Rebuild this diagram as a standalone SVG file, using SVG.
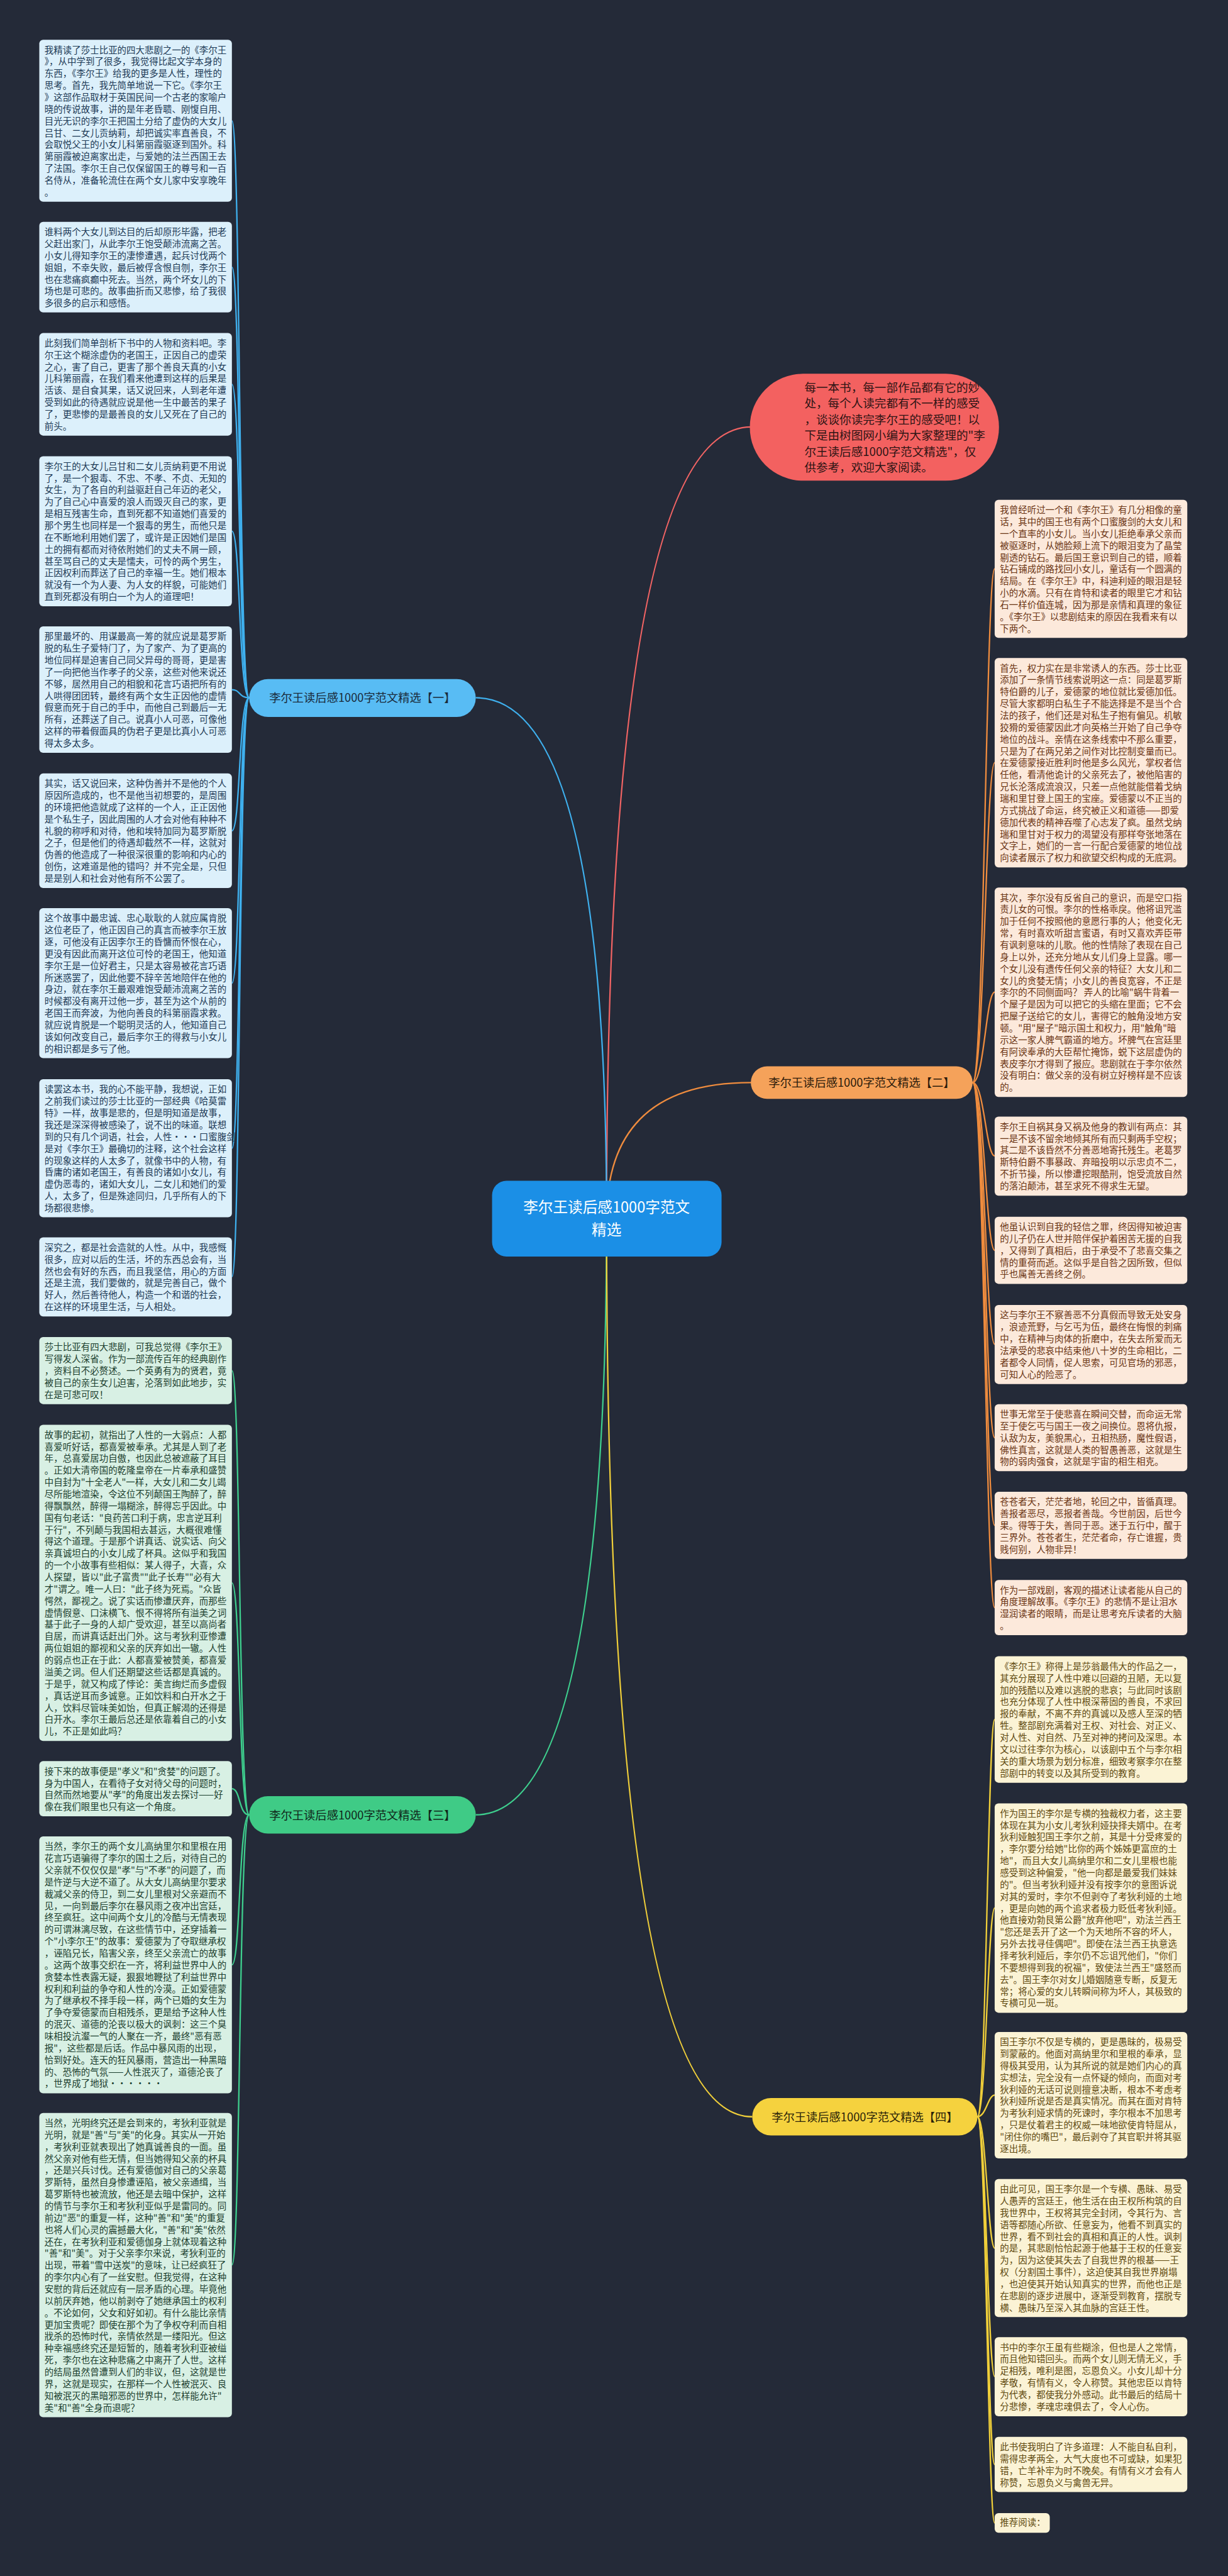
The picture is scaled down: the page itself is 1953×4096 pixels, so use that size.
<svg xmlns="http://www.w3.org/2000/svg" width="1953" height="4096" viewBox="0 0 1953 4096">
<style>
.t{font-family:"Noto Sans CJK SC","Noto Sans",sans-serif;font-size:19px}
.bb{fill:#dcf0fb}.bt{fill:#1d3a56}
.gb{fill:#d8f0e4}.gt{fill:#1c3f2f}
.ob{fill:#fce9db}.ot{fill:#6b3514}
.yb{fill:#fbf3d5}.yt{fill:#5f4a10}
.c{fill:none;stroke-width:3}
.lb{stroke:#3fb0ee}.lg{stroke:#3ecf8e}.lo{stroke:#ef8c3e}.ly{stroke:#f0cf3a}.lr{stroke:#f26464}
.lab{font-family:"Noto Sans CJK SC","Noto Sans",sans-serif;font-size:24px;text-anchor:middle}
</style>
<rect width="1953" height="4096" fill="#242a38"/>
<g transform="scale(0.762)">
<g id="connectors">
<path class="c lr" d="M1266 2543Q1266 891 1568 891"/>
<path class="c lb" d="M1266 2543Q1266 1456 993 1456"/>
<path class="c lo" d="M1266 2543Q1266 2259 1567 2259"/>
<path class="c lg" d="M1266 2543Q1266 3787 993 3787"/>
<path class="c ly" d="M1266 2543Q1266 4417 1570 4417"/>
<path class="c lb" d="M520 1456C498 1456 502 252 484 252"/>
<path class="c lb" d="M520 1456C498 1456 502 557.5 484 557.5"/>
<path class="c lb" d="M520 1456C498 1456 502 802 484 802"/>
<path class="c lb" d="M520 1456C498 1456 502 1108.5 484 1108.5"/>
<path class="c lb" d="M520 1456C498 1456 502 1439 484 1439"/>
<path class="c lb" d="M520 1456C498 1456 502 1733.5 484 1733.5"/>
<path class="c lb" d="M520 1456C498 1456 502 2051.5 484 2051.5"/>
<path class="c lb" d="M520 1456C498 1456 502 2396 484 2396"/>
<path class="c lb" d="M520 1456C498 1456 502 2664 484 2664"/>
<path class="c lg" d="M520 3787C498 3787 502 2860 484 2860"/>
<path class="c lg" d="M520 3787C498 3787 502 3303 484 3303"/>
<path class="c lg" d="M520 3787C498 3787 502 3732.5 484 3732.5"/>
<path class="c lg" d="M520 3787C498 3787 502 4100 484 4100"/>
<path class="c lg" d="M520 3787C498 3787 502 4726 484 4726"/>
<path class="c lo" d="M2030 2259C2054 2259 2058 1187 2076 1187"/>
<path class="c lo" d="M2030 2259C2054 2259 2058 1591.5 2076 1591.5"/>
<path class="c lo" d="M2030 2259C2054 2259 2058 2070.5 2076 2070.5"/>
<path class="c lo" d="M2030 2259C2054 2259 2058 2412 2076 2412"/>
<path class="c lo" d="M2030 2259C2054 2259 2058 2609 2076 2609"/>
<path class="c lo" d="M2030 2259C2054 2259 2058 2805 2076 2805"/>
<path class="c lo" d="M2030 2259C2054 2259 2058 3000 2076 3000"/>
<path class="c lo" d="M2030 2259C2054 2259 2058 3183 2076 3183"/>
<path class="c lo" d="M2030 2259C2054 2259 2058 3354.5 2076 3354.5"/>
<path class="c ly" d="M2040 4417C2058 4417 2062 3588 2076 3588"/>
<path class="c ly" d="M2040 4417C2058 4417 2062 3981.5 2076 3981.5"/>
<path class="c ly" d="M2040 4417C2058 4417 2062 4372 2076 4372"/>
<path class="c ly" d="M2040 4417C2058 4417 2062 4691 2076 4691"/>
<path class="c ly" d="M2040 4417C2058 4417 2062 4959 2076 4959"/>
<path class="c ly" d="M2040 4417C2058 4417 2062 5142.5 2076 5142.5"/>
<path class="c ly" d="M2040 4417C2058 4417 2062 5264.5 2076 5264.5"/>
</g>

<g id="center">
<rect x="1027" y="2464" width="479" height="158" rx="30" fill="#1b8fe6"/>
<text class="lab" x="1266" y="2530" style="font-size:31px" fill="#ffffff"><tspan x="1266">李尔王读后感1000字范文</tspan><tspan x="1266" dy="48">精选</tspan></text>
</g>

<g id="intro">
<rect x="1565" y="780" width="520" height="223" rx="111" fill="#f36160"/>
<text x="1679" y="817" style="font-family:'Noto Sans CJK SC','Noto Sans',sans-serif;font-size:24.4px" fill="#2e1414"><tspan x="1679">每一本书，每一部作品都有它的妙</tspan><tspan x="1679" dy="33.5">处，每个人读完都有不一样的感受</tspan><tspan x="1679" dy="33.5">，谈谈你读完李尔王的感受吧！以</tspan><tspan x="1679" dy="33.5">下是由树图网小编为大家整理的"李</tspan><tspan x="1679" dy="33.5">尔王读后感1000字范文精选"，仅</tspan><tspan x="1679" dy="33.5">供参考，欢迎大家阅读。</tspan></text>
</g>

<g id="branch1">
<rect x="520" y="1417" width="473" height="79" rx="39.5" fill="#58bcf4"/>
<text class="lab" x="756.5" y="1465" fill="#1a2a3a">李尔王读后感1000字范文精选【一】</text>
</g>
<g id="branch2">
<rect x="1567" y="2225" width="463" height="68" rx="34" fill="#f5a25a"/>
<text class="lab" x="1798.5" y="2268" fill="#2a1a0a">李尔王读后感1000字范文精选【二】</text>
</g>
<g id="branch3">
<rect x="520" y="3748" width="473" height="78" rx="39" fill="#3fcb86"/>
<text class="lab" x="756.5" y="3796" fill="#10261a">李尔王读后感1000字范文精选【三】</text>
</g>
<g id="branch4">
<rect x="1570" y="4378" width="470" height="78" rx="39" fill="#f5d23e"/>
<text class="lab" x="1805" y="4426" fill="#2a2208">李尔王读后感1000字范文精选【四】</text>
</g>

<g id="b1"><rect class="bb" x="82" y="83" width="402" height="338" rx="8"/>
<text class="t bt" x="93" y="111"><tspan x="93">我精读了莎士比亚的四大悲剧之一的《李尔王</tspan><tspan x="93" dy="24.75">》，从中学到了很多，我觉得比起文学本身的</tspan><tspan x="93" dy="24.75">东西，《李尔王》给我的更多是人性，理性的</tspan><tspan x="93" dy="24.75">思考。首先，我先简单地说一下它。《李尔王</tspan><tspan x="93" dy="24.75">》这部作品取材于英国民间一个古老的家喻户</tspan><tspan x="93" dy="24.75">晓的传说故事，讲的是年老昏聩、刚愎自用、</tspan><tspan x="93" dy="24.75">目光无识的李尔王把国土分给了虚伪的大女儿</tspan><tspan x="93" dy="24.75">吕甘、二女儿贡纳莉，却把诚实率直善良，不</tspan><tspan x="93" dy="24.75">会取悦父王的小女儿科第丽霞驱逐到国外。科</tspan><tspan x="93" dy="24.75">第丽霞被迫离家出走，与爱她的法兰西国王去</tspan><tspan x="93" dy="24.75">了法国。李尔王自己仅保留国王的尊号和一百</tspan><tspan x="93" dy="24.75">名侍从，准备轮流住在两个女儿家中安享晚年</tspan><tspan x="93" dy="24.75">。</tspan></text></g>

<g id="b2"><rect class="bb" x="82" y="463" width="402" height="189" rx="8"/>
<text class="t bt" x="93" y="491"><tspan x="93">谁料两个大女儿到达目的后却原形毕露，把老</tspan><tspan x="93" dy="24.75">父赶出家门，从此李尔王饱受颠沛流离之苦。</tspan><tspan x="93" dy="24.75">小女儿得知李尔王的凄惨遭遇，起兵讨伐两个</tspan><tspan x="93" dy="24.75">姐姐，不幸失败，最后被俘含恨自刎，李尔王</tspan><tspan x="93" dy="24.75">也在悲痛疯癫中死去。当然，两个坏女儿的下</tspan><tspan x="93" dy="24.75">场也是可悲的。故事曲折而又悲惨，给了我很</tspan><tspan x="93" dy="24.75">多很多的启示和感悟。</tspan></text></g>

<g id="b3"><rect class="bb" x="82" y="695" width="402" height="214" rx="8"/>
<text class="t bt" x="93" y="723"><tspan x="93">此刻我们简单剖析下书中的人物和资料吧。李</tspan><tspan x="93" dy="24.75">尔王这个糊涂虚伪的老国王，正因自己的虚荣</tspan><tspan x="93" dy="24.75">之心，害了自己，更害了那个善良天真的小女</tspan><tspan x="93" dy="24.75">儿科第丽霞，在我们看来他遭到这样的后果是</tspan><tspan x="93" dy="24.75">活该、是自食其果，话又说回来，人到老年遭</tspan><tspan x="93" dy="24.75">受到如此的待遇就应说是他一生中最苦的果子</tspan><tspan x="93" dy="24.75">了，更悲惨的是最善良的女儿又死在了自己的</tspan><tspan x="93" dy="24.75">前头。</tspan></text></g>

<g id="b4"><rect class="bb" x="82" y="952" width="402" height="313" rx="8"/>
<text class="t bt" x="93" y="980"><tspan x="93">李尔王的大女儿吕甘和二女儿贡纳莉更不用说</tspan><tspan x="93" dy="24.75">了，是一个狠毒、不忠、不孝、不贞、无知的</tspan><tspan x="93" dy="24.75">女生，为了各自的利益驱赶自己年迈的老父，</tspan><tspan x="93" dy="24.75">为了自己心中喜爱的浪人而毁灭自己的家，更</tspan><tspan x="93" dy="24.75">是相互残害生命，直到死都不知道她们喜爱的</tspan><tspan x="93" dy="24.75">那个男生也同样是一个狠毒的男生，而他只是</tspan><tspan x="93" dy="24.75">在不断地利用她们罢了，或许是正因她们是国</tspan><tspan x="93" dy="24.75">土的拥有都而对待依附她们的丈夫不屑一顾，</tspan><tspan x="93" dy="24.75">甚至骂自己的丈夫是懦夫，可怜的两个男生，</tspan><tspan x="93" dy="24.75">正因权利而葬送了自己的幸福一生。她们根本</tspan><tspan x="93" dy="24.75">就没有一个为人妻、为人女的样貌，可能她们</tspan><tspan x="93" dy="24.75">直到死都没有明白一个为人的道理吧！</tspan></text></g>

<g id="b5"><rect class="bb" x="82" y="1307" width="402" height="264" rx="8"/>
<text class="t bt" x="93" y="1335"><tspan x="93">那里最坏的、用谋最高一筹的就应说是葛罗斯</tspan><tspan x="93" dy="24.75">脱的私生子爱特门了，为了家产、为了更高的</tspan><tspan x="93" dy="24.75">地位同样是迫害自己同父异母的哥哥，更是害</tspan><tspan x="93" dy="24.75">了一向把他当作孝子的父亲，这些对他来说还</tspan><tspan x="93" dy="24.75">不够，居然用自己的相貌和花言巧语把所有的</tspan><tspan x="93" dy="24.75">人哄得团团转，最终有两个女生正因他的虚情</tspan><tspan x="93" dy="24.75">假意而死于自己的手中，而他自己到最后一无</tspan><tspan x="93" dy="24.75">所有，还葬送了自己。说真小人可恶，可像他</tspan><tspan x="93" dy="24.75">这样的带着假面具的伪君子更是比真小人可恶</tspan><tspan x="93" dy="24.75">得太多太多。</tspan></text></g>

<g id="b6"><rect class="bb" x="82" y="1614" width="402" height="239" rx="8"/>
<text class="t bt" x="93" y="1642"><tspan x="93">其实，话又说回来，这种伪善并不是他的个人</tspan><tspan x="93" dy="24.75">原因所造成的，也不是他当初想要的，是周围</tspan><tspan x="93" dy="24.75">的环境把他造就成了这样的一个人，正正因他</tspan><tspan x="93" dy="24.75">是个私生子，因此周围的人才会对他有种种不</tspan><tspan x="93" dy="24.75">礼貌的称呼和对待，他和埃特加同为葛罗斯脱</tspan><tspan x="93" dy="24.75">之子，但是他们的待遇却截然不一样，这就对</tspan><tspan x="93" dy="24.75">伪善的他造成了一种很深很重的影响和内心的</tspan><tspan x="93" dy="24.75">创伤，这难道是他的错吗？并不完全是，只但</tspan><tspan x="93" dy="24.75">是是别人和社会对他有所不公罢了。</tspan></text></g>

<g id="b7"><rect class="bb" x="82" y="1895" width="402" height="313" rx="8"/>
<text class="t bt" x="93" y="1923"><tspan x="93">这个故事中最忠诚、忠心耿耿的人就应属肯脱</tspan><tspan x="93" dy="24.75">这位老臣了，他正因自己的真言而被李尔王放</tspan><tspan x="93" dy="24.75">逐，可他没有正因李尔王的昏慵而怀恨在心，</tspan><tspan x="93" dy="24.75">更没有因此而离开这位可怜的老国王，他知道</tspan><tspan x="93" dy="24.75">李尔王是一位好君主，只是太容易被花言巧语</tspan><tspan x="93" dy="24.75">所迷惑罢了，因此他要不辞辛苦地陪伴在他的</tspan><tspan x="93" dy="24.75">身边，就在李尔王最艰难饱受颠沛流离之苦的</tspan><tspan x="93" dy="24.75">时候都没有离开过他一步，甚至为这个从前的</tspan><tspan x="93" dy="24.75">老国王而奔波，为他向善良的科第丽霞求救。</tspan><tspan x="93" dy="24.75">就应说肯脱是一个聪明灵活的人，他知道自己</tspan><tspan x="93" dy="24.75">该如何改变自己，最后李尔王的得救与小女儿</tspan><tspan x="93" dy="24.75">的相识都是多亏了他。</tspan></text></g>

<g id="b8"><rect class="bb" x="82" y="2252" width="402" height="288" rx="8"/>
<text class="t bt" x="93" y="2280"><tspan x="93">读罢这本书，我的心不能平静，我想说，正如</tspan><tspan x="93" dy="24.75">之前我们读过的莎士比亚的一部经典《哈莫雷</tspan><tspan x="93" dy="24.75">特》一样，故事是悲的，但是明知道是故事，</tspan><tspan x="93" dy="24.75">我还是深深得被感染了，说不出的味道。联想</tspan><tspan x="93" dy="24.75">到的只有几个词语，社会，人性···口蜜腹剑</tspan><tspan x="93" dy="24.75">是对《李尔王》最确切的注释，这个社会这样</tspan><tspan x="93" dy="24.75">的现象这样的人太多了，就像书中的人物，有</tspan><tspan x="93" dy="24.75">昏庸的诸如老国王，有善良的诸如小女儿，有</tspan><tspan x="93" dy="24.75">虚伪恶毒的，诸如大女儿，二女儿和她们的爱</tspan><tspan x="93" dy="24.75">人，太多了，但是殊途同归，几乎所有人的下</tspan><tspan x="93" dy="24.75">场都很悲惨。</tspan></text></g>

<g id="b9"><rect class="bb" x="82" y="2582" width="402" height="165" rx="8"/>
<text class="t bt" x="93" y="2610"><tspan x="93">深究之，都是社会造就的人性。从中，我感慨</tspan><tspan x="93" dy="24.75">很多，应对以后的生活，坏的东西总会有，当</tspan><tspan x="93" dy="24.75">然也会有好的东西，而且我坚信，用心的方面</tspan><tspan x="93" dy="24.75">还是主流，我们要做的，就是完善自己，做个</tspan><tspan x="93" dy="24.75">好人，然后善待他人，构造一个和谐的社会，</tspan><tspan x="93" dy="24.75">在这样的环境里生活，与人相处。</tspan></text></g>

<g id="b10"><rect class="gb" x="82" y="2790" width="402" height="140" rx="8"/>
<text class="t gt" x="93" y="2818"><tspan x="93">莎士比亚有四大悲剧，可我总觉得《李尔王》</tspan><tspan x="93" dy="24.75">写得发人深省。作为一部流传百年的经典剧作</tspan><tspan x="93" dy="24.75">，资料自不必赘述。一个英勇有为的贤君，竟</tspan><tspan x="93" dy="24.75">被自己的亲生女儿迫害，沦落到如此地步，实</tspan><tspan x="93" dy="24.75">在是可悲可叹！</tspan></text></g>

<g id="b11"><rect class="gb" x="82" y="2973" width="402" height="660" rx="8"/>
<text class="t gt" x="93" y="3001"><tspan x="93">故事的起初，就指出了人性的一大弱点：人都</tspan><tspan x="93" dy="24.75">喜爱听好话，都喜爱被奉承。尤其是人到了老</tspan><tspan x="93" dy="24.75">年，总喜爱居功自傲，也因此总被遮蔽了耳目</tspan><tspan x="93" dy="24.75">。正如大清帝国的乾隆皇帝在一片奉承和盛赞</tspan><tspan x="93" dy="24.75">中自封为"十全老人"一样，大女儿和二女儿竭</tspan><tspan x="93" dy="24.75">尽所能地渲染，令这位不列颠国王陶醉了，醉</tspan><tspan x="93" dy="24.75">得飘飘然，醉得一塌糊涂，醉得忘乎因此。中</tspan><tspan x="93" dy="24.75">国有句老话："良药苦口利于病，忠言逆耳利</tspan><tspan x="93" dy="24.75">于行"，不列颠与我国相去甚远，大概很难懂</tspan><tspan x="93" dy="24.75">得这个道理。于是那个讲真话、说实话、向父</tspan><tspan x="93" dy="24.75">亲真诚坦白的小女儿成了杯具。这似乎和我国</tspan><tspan x="93" dy="24.75">的一个小故事有些相似：某人得子，大喜，众</tspan><tspan x="93" dy="24.75">人探望，皆以"此子富贵""此子长寿""必有大</tspan><tspan x="93" dy="24.75">才"谓之。唯一人曰："此子终为死焉。"众皆</tspan><tspan x="93" dy="24.75">愕然，鄙视之。说了实话而惨遭厌弃，而那些</tspan><tspan x="93" dy="24.75">虚情假意、口沫横飞、恨不得将所有溢美之词</tspan><tspan x="93" dy="24.75">基于此子一身的人却广受欢迎，甚至以高尚者</tspan><tspan x="93" dy="24.75">自居，而讲真话赶出门外。这与考狄利亚惨遭</tspan><tspan x="93" dy="24.75">两位姐姐的鄙视和父亲的厌弃如出一辙。人性</tspan><tspan x="93" dy="24.75">的弱点也正在于此：人都喜爱被赞美，都喜爱</tspan><tspan x="93" dy="24.75">溢美之词。但人们还期望这些话都是真诚的。</tspan><tspan x="93" dy="24.75">于是乎，就又构成了悖论：美言绚烂而多虚假</tspan><tspan x="93" dy="24.75">，真话逆耳而多诚意。正如饮料和白开水之于</tspan><tspan x="93" dy="24.75">人，饮料尽管味美如饴，但真正解渴的还得是</tspan><tspan x="93" dy="24.75">白开水。李尔王最后总还是依靠着自己的小女</tspan><tspan x="93" dy="24.75">儿，不正是如此吗？</tspan></text></g>

<g id="b12"><rect class="gb" x="82" y="3675" width="402" height="115" rx="8"/>
<text class="t gt" x="93" y="3703"><tspan x="93">接下来的故事便是"孝义"和"贪婪"的问题了。</tspan><tspan x="93" dy="24.75">身为中国人，在看待子女对待父母的问题时，</tspan><tspan x="93" dy="24.75">自然而然地要从"孝"的角度出发去探讨——好</tspan><tspan x="93" dy="24.75">像在我们眼里也只有这一个角度。</tspan></text></g>

<g id="b13"><rect class="gb" x="82" y="3832" width="402" height="536" rx="8"/>
<text class="t gt" x="93" y="3860"><tspan x="93">当然，李尔王的两个女儿高纳里尔和里根在用</tspan><tspan x="93" dy="24.75">花言巧语骗得了李尔的国土之后，对待自己的</tspan><tspan x="93" dy="24.75">父亲就不仅仅仅是"孝"与"不孝"的问题了，而</tspan><tspan x="93" dy="24.75">是忤逆与大逆不道了。从大女儿高纳里尔要求</tspan><tspan x="93" dy="24.75">裁减父亲的侍卫，到二女儿里根对父亲避而不</tspan><tspan x="93" dy="24.75">见，一向到最后李尔在暴风雨之夜冲出宫廷，</tspan><tspan x="93" dy="24.75">终至疯狂。这中间两个女儿的冷酷与无情表现</tspan><tspan x="93" dy="24.75">的可谓淋漓尽致，在这些情节中，还穿插着一</tspan><tspan x="93" dy="24.75">个"小李尔王"的故事：爱德蒙为了夺取继承权</tspan><tspan x="93" dy="24.75">，诬陷兄长，陷害父亲，终至父亲流亡的故事</tspan><tspan x="93" dy="24.75">。这两个故事交织在一齐，将利益世界中人的</tspan><tspan x="93" dy="24.75">贪婪本性表露无疑，狠狠地鞭挞了利益世界中</tspan><tspan x="93" dy="24.75">权利和利益的争夺和人性的冷漠。正如爱德蒙</tspan><tspan x="93" dy="24.75">为了继承权不择手段一样，两个已婚的女生为</tspan><tspan x="93" dy="24.75">了争夺爱德蒙而自相残杀，更是给予这种人性</tspan><tspan x="93" dy="24.75">的泯灭、道德的沦丧以极大的讽刺：这三个臭</tspan><tspan x="93" dy="24.75">味相投沆瀣一气的人聚在一齐，最终"恶有恶</tspan><tspan x="93" dy="24.75">报"，这些都是后话。作品中暴风雨的出现，</tspan><tspan x="93" dy="24.75">恰到好处。连天的狂风暴雨，营造出一种黑暗</tspan><tspan x="93" dy="24.75">的、恐怖的气氛——人性泯灭了，道德沦丧了</tspan><tspan x="93" dy="24.75">，世界成了地狱······</tspan></text></g>

<g id="b14"><rect class="gb" x="82" y="4409" width="402" height="635" rx="8"/>
<text class="t gt" x="93" y="4437"><tspan x="93">当然，光明终究还是会到来的，考狄利亚就是</tspan><tspan x="93" dy="24.75">光明，就是"善"与"美"的化身。其实从一开始</tspan><tspan x="93" dy="24.75">，考狄利亚就表现出了她真诚善良的一面。虽</tspan><tspan x="93" dy="24.75">然父亲对他有些无情，但当她得知父亲的杯具</tspan><tspan x="93" dy="24.75">，还是兴兵讨伐。还有爱德伽对自己的父亲葛</tspan><tspan x="93" dy="24.75">罗斯特，虽然自身惨遭诬陷，被父亲通缉，当</tspan><tspan x="93" dy="24.75">葛罗斯特也被流放，他还是去暗中保护，这样</tspan><tspan x="93" dy="24.75">的情节与李尔王和考狄利亚似乎是雷同的。同</tspan><tspan x="93" dy="24.75">前边"恶"的重复一样，这种"善"和"美"的重复</tspan><tspan x="93" dy="24.75">也将人们心灵的震撼最大化，"善"和"美"依然</tspan><tspan x="93" dy="24.75">还在，在考狄利亚和爱德伽身上就体现着这种</tspan><tspan x="93" dy="24.75">"善"和"美"。对于父亲李尔来说，考狄利亚的</tspan><tspan x="93" dy="24.75">出现，带着"雪中送炭"的意味，让已经疯狂了</tspan><tspan x="93" dy="24.75">的李尔内心有了一丝安慰。但我觉得，在这种</tspan><tspan x="93" dy="24.75">安慰的背后还就应有一层矛盾的心理。毕竟他</tspan><tspan x="93" dy="24.75">以前厌弃她，他以前剥夺了她继承国土的权利</tspan><tspan x="93" dy="24.75">。不论如何，父女和好如初。有什么能比亲情</tspan><tspan x="93" dy="24.75">更加宝贵呢？即使在那个为了争权夺利而自相</tspan><tspan x="93" dy="24.75">戕杀的恐怖时代，亲情依然是一缕阳光。但这</tspan><tspan x="93" dy="24.75">种幸福感终究还是短暂的，随着考狄利亚被缢</tspan><tspan x="93" dy="24.75">死，李尔也在这种悲痛之中离开了人世。这样</tspan><tspan x="93" dy="24.75">的结局虽然曾遭到人们的非议，但，这就是世</tspan><tspan x="93" dy="24.75">界，这就是现实，在那样一个人性被泯灭、良</tspan><tspan x="93" dy="24.75">知被泯灭的黑暗邪恶的世界中，怎样能允许"</tspan><tspan x="93" dy="24.75">美"和"善"全身而退呢？</tspan></text></g>

<g id="r1"><rect class="ob" x="2076" y="1043" width="402" height="288" rx="8"/>
<text class="t ot" x="2087" y="1071"><tspan x="2087">我曾经听过一个和《李尔王》有几分相像的童</tspan><tspan x="2087" dy="24.75">话，其中的国王也有两个口蜜腹剑的大女儿和</tspan><tspan x="2087" dy="24.75">一个直率的小女儿。当小女儿拒绝奉承父亲而</tspan><tspan x="2087" dy="24.75">被驱逐时，从她脸颊上流下的眼泪变为了晶莹</tspan><tspan x="2087" dy="24.75">剔透的钻石。最后国王意识到自己的错，顺着</tspan><tspan x="2087" dy="24.75">钻石铺成的路找回小女儿，童话有一个圆满的</tspan><tspan x="2087" dy="24.75">结局。在《李尔王》中，科迪利娅的眼泪是轻</tspan><tspan x="2087" dy="24.75">小的水滴。只有在肯特和读者的眼里它才和钻</tspan><tspan x="2087" dy="24.75">石一样价值连城，因为那是亲情和真理的象征</tspan><tspan x="2087" dy="24.75">。《李尔王》以悲剧结束的原因在我看来有以</tspan><tspan x="2087" dy="24.75">下两个。</tspan></text></g>

<g id="r2"><rect class="ob" x="2076" y="1373" width="402" height="437" rx="8"/>
<text class="t ot" x="2087" y="1401"><tspan x="2087">首先，权力实在是非常诱人的东西。莎士比亚</tspan><tspan x="2087" dy="24.75">添加了一条情节线索说明这一点：同是葛罗斯</tspan><tspan x="2087" dy="24.75">特伯爵的儿子，爱德蒙的地位就比爱德加低。</tspan><tspan x="2087" dy="24.75">尽管大家都明白私生子不能选择是不是当个合</tspan><tspan x="2087" dy="24.75">法的孩子，他们还是对私生子抱有偏见。机敏</tspan><tspan x="2087" dy="24.75">狡猾的爱德蒙因此才向英格兰开始了自己争夺</tspan><tspan x="2087" dy="24.75">地位的战斗。亲情在这条线索中不那么重要，</tspan><tspan x="2087" dy="24.75">只是为了在两兄弟之间作对比控制变量而已。</tspan><tspan x="2087" dy="24.75">在爱德蒙接近胜利时他是多么风光，掌权者信</tspan><tspan x="2087" dy="24.75">任他，看清他诡计的父亲死去了，被他陷害的</tspan><tspan x="2087" dy="24.75">兄长沦落成流浪汉，只差一点他就能借着戈纳</tspan><tspan x="2087" dy="24.75">瑞和里甘登上国王的宝座。爱德蒙以不正当的</tspan><tspan x="2087" dy="24.75">方式挑战了命运，终究被正义和道德——即爱</tspan><tspan x="2087" dy="24.75">德加代表的精神吞噬了心志发了疯。虽然戈纳</tspan><tspan x="2087" dy="24.75">瑞和里甘对于权力的渴望没有那样夸张地落在</tspan><tspan x="2087" dy="24.75">文字上，她们的一言一行配合爱德蒙的地位战</tspan><tspan x="2087" dy="24.75">向读者展示了权力和欲望交织构成的无底洞。</tspan></text></g>

<g id="r3"><rect class="ob" x="2076" y="1852" width="402" height="437" rx="8"/>
<text class="t ot" x="2087" y="1880"><tspan x="2087">其次，李尔没有反省自己的意识，而是空口指</tspan><tspan x="2087" dy="24.75">责儿女的可恨。李尔的性格乖戾。他将诅咒滥</tspan><tspan x="2087" dy="24.75">加于任何不按照他的意愿行事的人；他变化无</tspan><tspan x="2087" dy="24.75">常，有时喜欢听甜言蜜语，有时又喜欢弄臣带</tspan><tspan x="2087" dy="24.75">有讽刺意味的儿歌。他的性情除了表现在自己</tspan><tspan x="2087" dy="24.75">身上以外，还充分地从女儿们身上显露。哪一</tspan><tspan x="2087" dy="24.75">个女儿没有遗传任何父亲的特征？大女儿和二</tspan><tspan x="2087" dy="24.75">女儿的贪婪无情；小女儿的善良宽容，不正是</tspan><tspan x="2087" dy="24.75">李尔的不同侧面吗？ 弄人的比喻"蜗牛背着一</tspan><tspan x="2087" dy="24.75">个屋子是因为可以把它的头缩在里面；它不会</tspan><tspan x="2087" dy="24.75">把屋子送给它的女儿，害得它的触角没地方安</tspan><tspan x="2087" dy="24.75">顿。"用"屋子"暗示国土和权力，用"触角"暗</tspan><tspan x="2087" dy="24.75">示这一家人脾气霸道的地方。坏脾气在宫廷里</tspan><tspan x="2087" dy="24.75">有阿谀奉承的大臣帮忙掩饰，蜕下这层虚伪的</tspan><tspan x="2087" dy="24.75">表皮李尔才得到了报应。悲剧就在于李尔依然</tspan><tspan x="2087" dy="24.75">没有明白：做父亲的没有树立好榜样是不应该</tspan><tspan x="2087" dy="24.75">的。</tspan></text></g>

<g id="r4"><rect class="ob" x="2076" y="2330" width="402" height="165" rx="8"/>
<text class="t ot" x="2087" y="2358"><tspan x="2087">李尔王自祸其身又祸及他身的教训有两点：其</tspan><tspan x="2087" dy="24.75">一是不该不留余地倾其所有而只剩两手空权；</tspan><tspan x="2087" dy="24.75">其二是不该昏然不分善恶地寄托残生。老葛罗</tspan><tspan x="2087" dy="24.75">斯特伯爵不事暴政、弃暗投明以示忠贞不二，</tspan><tspan x="2087" dy="24.75">不折节操，所以惨遭挖眼酷刑，饱受流放自然</tspan><tspan x="2087" dy="24.75">的落泊颠沛，甚至求死不得求生无望。</tspan></text></g>

<g id="r5"><rect class="ob" x="2076" y="2539" width="402" height="140" rx="8"/>
<text class="t ot" x="2087" y="2567"><tspan x="2087">他虽认识到自我的轻信之罪，终因得知被迫害</tspan><tspan x="2087" dy="24.75">的儿子仍在人世并陪伴保护着困苦无援的自我</tspan><tspan x="2087" dy="24.75">，又得到了真相后，由于承受不了悲喜交集之</tspan><tspan x="2087" dy="24.75">情的重荷而逝。这似乎是自咎之因所致，但似</tspan><tspan x="2087" dy="24.75">乎也属善无善终之例。</tspan></text></g>

<g id="r6"><rect class="ob" x="2076" y="2723" width="402" height="165" rx="8"/>
<text class="t ot" x="2087" y="2751"><tspan x="2087">这与李尔王不察善恶不分真假而导致无处安身</tspan><tspan x="2087" dy="24.75">，浪迹荒野，与乞丐为伍，最终在悔恨的刺痛</tspan><tspan x="2087" dy="24.75">中，在精神与肉体的折磨中，在失去所爱而无</tspan><tspan x="2087" dy="24.75">法承受的悲哀中结束他八十岁的生命相比，二</tspan><tspan x="2087" dy="24.75">者都令人同情，促人思索，可见官场的邪恶，</tspan><tspan x="2087" dy="24.75">可知人心的险恶了。</tspan></text></g>

<g id="r7"><rect class="ob" x="2076" y="2930" width="402" height="140" rx="8"/>
<text class="t ot" x="2087" y="2958"><tspan x="2087">世事无常至于使悲喜在瞬间交替，而命运无常</tspan><tspan x="2087" dy="24.75">至于使乞丐与国王一夜之间换位。恩将仇报，</tspan><tspan x="2087" dy="24.75">认敌为友，美貌黑心，丑相热肠，魔性假语，</tspan><tspan x="2087" dy="24.75">佛性真言，这就是人类的智愚善恶，这就是生</tspan><tspan x="2087" dy="24.75">物的弱肉强食，这就是宇宙的相生相克。</tspan></text></g>

<g id="r8"><rect class="ob" x="2076" y="3113" width="402" height="140" rx="8"/>
<text class="t ot" x="2087" y="3141"><tspan x="2087">苍苍者天，茫茫者地，轮回之中，皆循真理。</tspan><tspan x="2087" dy="24.75">善报者恶尽，恶报者善哉。今世前因，后世今</tspan><tspan x="2087" dy="24.75">果。得等于失，善同于恶。迷于五行中，醒于</tspan><tspan x="2087" dy="24.75">三界外。苍苍者生，茫茫者命，存亡谁握，贵</tspan><tspan x="2087" dy="24.75">贱何别，人物非异！</tspan></text></g>

<g id="r9"><rect class="ob" x="2076" y="3297" width="402" height="115" rx="8"/>
<text class="t ot" x="2087" y="3325"><tspan x="2087">作为一部戏剧，客观的描述让读者能从自己的</tspan><tspan x="2087" dy="24.75">角度理解故事。《李尔王》的悲情不是让泪水</tspan><tspan x="2087" dy="24.75">湿润读者的眼睛，而是让思考充斥读者的大脑</tspan><tspan x="2087" dy="24.75">。</tspan></text></g>

<g id="r10"><rect class="yb" x="2076" y="3456" width="402" height="264" rx="8"/>
<text class="t yt" x="2087" y="3484"><tspan x="2087">《李尔王》称得上是莎翁最伟大的作品之一，</tspan><tspan x="2087" dy="24.75">其充分展现了人性中难以回避的丑陋，无以复</tspan><tspan x="2087" dy="24.75">加的残酷以及难以逃脱的悲哀；与此同时该剧</tspan><tspan x="2087" dy="24.75">也充分体现了人性中根深蒂固的善良，不求回</tspan><tspan x="2087" dy="24.75">报的奉献，不离不弃的真诚以及感人至深的牺</tspan><tspan x="2087" dy="24.75">牲。整部剧充满着对王权、对社会、对正义、</tspan><tspan x="2087" dy="24.75">对人性、对自然、乃至对神的拷问及深思。本</tspan><tspan x="2087" dy="24.75">文以过往李尔为核心，以该剧中五个与李尔相</tspan><tspan x="2087" dy="24.75">关的重大场景为划分标准，细致考察李尔在整</tspan><tspan x="2087" dy="24.75">部剧中的转变以及其所受到的教育。</tspan></text></g>

<g id="r11"><rect class="yb" x="2076" y="3763" width="402" height="437" rx="8"/>
<text class="t yt" x="2087" y="3791"><tspan x="2087">作为国王的李尔是专横的独裁权力者，这主要</tspan><tspan x="2087" dy="24.75">体现在其为小女儿考狄利娅抉择夫婿中。在考</tspan><tspan x="2087" dy="24.75">狄利娅触犯国王李尔之前，其是十分受疼爱的</tspan><tspan x="2087" dy="24.75">，李尔要分给她"比你的两个姊姊更富庶的土</tspan><tspan x="2087" dy="24.75">地"，而且大女儿高纳里尔和二女儿里根也能</tspan><tspan x="2087" dy="24.75">感受到这种偏爱，"他一向都是最爱我们妹妹</tspan><tspan x="2087" dy="24.75">的"。但当考狄利娅并没有按李尔的意图诉说</tspan><tspan x="2087" dy="24.75">对其的爱时，李尔不但剥夺了考狄利娅的土地</tspan><tspan x="2087" dy="24.75">，更是向她的两个追求者极力贬低考狄利娅。</tspan><tspan x="2087" dy="24.75">他直接劝勃艮第公爵"放弃他吧"，劝法兰西王</tspan><tspan x="2087" dy="24.75">"您还是丢开了这一个为天地所不容的坏人，</tspan><tspan x="2087" dy="24.75">另外去找寻佳偶吧"。即使在法兰西王执意选</tspan><tspan x="2087" dy="24.75">择考狄利娅后，李尔仍不忘诅咒他们，"你们</tspan><tspan x="2087" dy="24.75">不要想得到我的祝福"，致使法兰西王"盛怒而</tspan><tspan x="2087" dy="24.75">去"。国王李尔对女儿婚姻随意专断，反复无</tspan><tspan x="2087" dy="24.75">常；将心爱的女儿转瞬间称为坏人，其极致的</tspan><tspan x="2087" dy="24.75">专横可见一斑。</tspan></text></g>

<g id="r12"><rect class="yb" x="2076" y="4240" width="402" height="264" rx="8"/>
<text class="t yt" x="2087" y="4268"><tspan x="2087">国王李尔不仅是专横的，更是愚昧的，极易受</tspan><tspan x="2087" dy="24.75">到蒙蔽的。他面对高纳里尔和里根的奉承，显</tspan><tspan x="2087" dy="24.75">得极其受用，认为其所说的就是她们内心的真</tspan><tspan x="2087" dy="24.75">实想法，完全没有一点怀疑的倾向，而面对考</tspan><tspan x="2087" dy="24.75">狄利娅的无话可说则擅意决断，根本不考虑考</tspan><tspan x="2087" dy="24.75">狄利娅所说是否是真实情况。而其在面对肯特</tspan><tspan x="2087" dy="24.75">为考狄利娅求情的死谏时，李尔根本不加思考</tspan><tspan x="2087" dy="24.75">，只是仗着君主的权威一味地欲使肯特屈从，</tspan><tspan x="2087" dy="24.75">"闭住你的嘴巴"，最后剥夺了其官职并将其驱</tspan><tspan x="2087" dy="24.75">逐出境。</tspan></text></g>

<g id="r13"><rect class="yb" x="2076" y="4547" width="402" height="288" rx="8"/>
<text class="t yt" x="2087" y="4575"><tspan x="2087">由此可见，国王李尔是一个专横、愚昧、易受</tspan><tspan x="2087" dy="24.75">人愚弄的宫廷王，他生活在由王权所构筑的自</tspan><tspan x="2087" dy="24.75">我世界中，王权将其完全封闭，令其行为、言</tspan><tspan x="2087" dy="24.75">语等都随心所欲、任意妄为，他看不到真实的</tspan><tspan x="2087" dy="24.75">世界，看不到社会的真相和真正的人性。讽刺</tspan><tspan x="2087" dy="24.75">的是，其悲剧恰恰起源于他基于王权的任意妄</tspan><tspan x="2087" dy="24.75">为，因为这使其失去了自我世界的根基——王</tspan><tspan x="2087" dy="24.75">权（分割国土事件），这迫使其自我世界崩塌</tspan><tspan x="2087" dy="24.75">，也迫使其开始认知真实的世界，而他也正是</tspan><tspan x="2087" dy="24.75">在悲剧的逐步进展中，逐渐受到教育，摆脱专</tspan><tspan x="2087" dy="24.75">横、愚昧乃至深入其血脉的宫廷王性。</tspan></text></g>

<g id="r14"><rect class="yb" x="2076" y="4877" width="402" height="165" rx="8"/>
<text class="t yt" x="2087" y="4905"><tspan x="2087">书中的李尔王虽有些糊涂，但也是人之常情，</tspan><tspan x="2087" dy="24.75">而且他知错回头。而两个女儿则无情无义，手</tspan><tspan x="2087" dy="24.75">足相残，唯利是图，忘恩负义。小女儿却十分</tspan><tspan x="2087" dy="24.75">孝敬，有情有义，令人称赞。其他忠臣以肯特</tspan><tspan x="2087" dy="24.75">为代表，都使我分外感动。此书最后的结局十</tspan><tspan x="2087" dy="24.75">分悲惨，孝魂忠魂俱去了，令人心伤。</tspan></text></g>

<g id="r15"><rect class="yb" x="2076" y="5085" width="402" height="115" rx="8"/>
<text class="t yt" x="2087" y="5113"><tspan x="2087">此书使我明白了许多道理：人不能自私自利，</tspan><tspan x="2087" dy="24.75">需得忠孝两全，大气大度也不可或缺，如果犯</tspan><tspan x="2087" dy="24.75">错，亡羊补牢为时不晚矣。有情有义才会有人</tspan><tspan x="2087" dy="24.75">称赞，忘恩负义与禽兽无异。</tspan></text></g>

<g id="r16"><rect class="yb" x="2076" y="5244" width="115" height="41" rx="8"/>
<text class="t yt" x="2087" y="5271">推荐阅读：</text></g>
</g>
</svg>
